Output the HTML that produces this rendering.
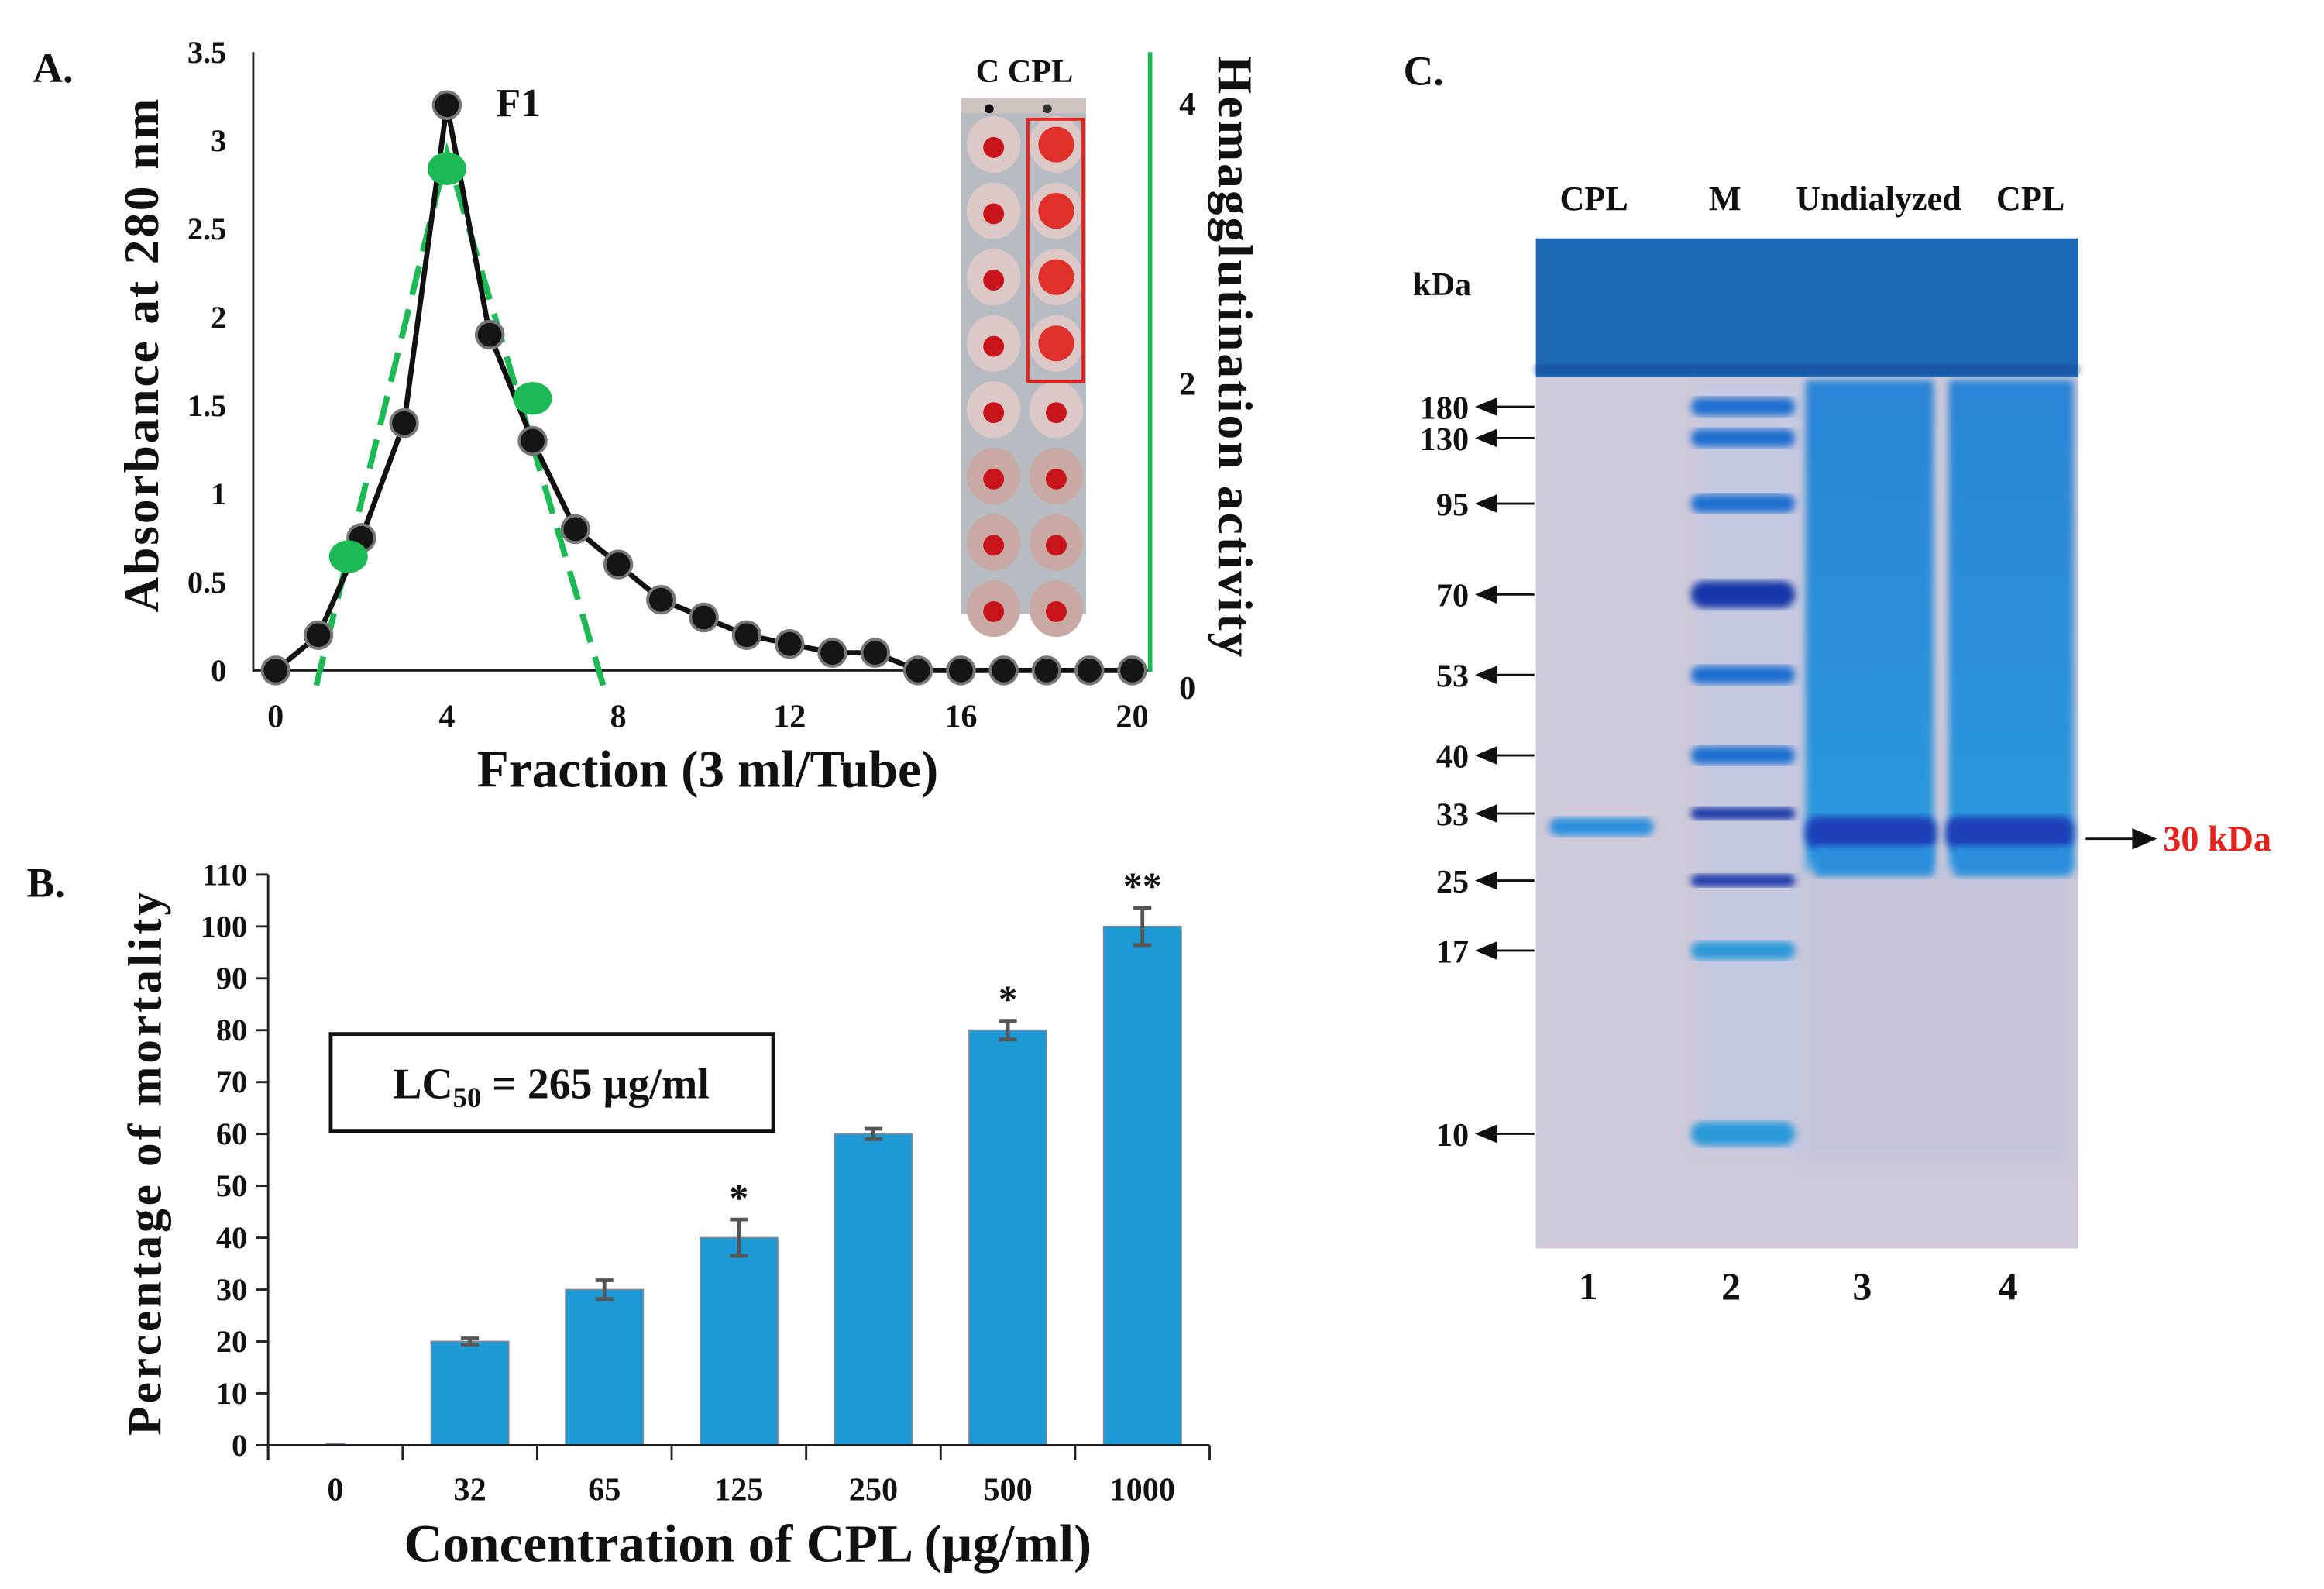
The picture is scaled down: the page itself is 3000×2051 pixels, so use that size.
<!DOCTYPE html>
<html><head><meta charset="utf-8"><style>
html,body{margin:0;padding:0;background:#fff}
svg{display:block}
text{font-family:"Liberation Serif",serif;font-weight:bold;fill:#111}
</style></head><body>
<svg id="fig" width="3000" height="2051" viewBox="0 0 1560 1066.5" preserveAspectRatio="none" xmlns="http://www.w3.org/2000/svg">
<defs>
<filter id="blur2"><feGaussianBlur stdDeviation="2.5"/></filter>
<filter id="blur4"><feGaussianBlur stdDeviation="4"/></filter>
<linearGradient id="smear" x1="0" y1="0" x2="0" y2="1">
<stop offset="0" stop-color="#2a84d6"/><stop offset="0.85" stop-color="#2a96dc"/><stop offset="1" stop-color="#2a9ae0"/></linearGradient>
</defs>
<g id="panelA"></g>
<g id="panelB"></g>
<g id="panelC"></g>
</svg>
<script>
// ---------- Panel A data ----------
const fractions = [0,1,2,3,4,5,6,7,8,9,10,11,12,13,14,15,16,17,18,19,20];
const absorbance = [0,0.2,0.75,1.4,3.2,1.9,1.3,0.8,0.6,0.4,0.3,0.2,0.15,0.1,0.1,0,0,0,0,0,0];
const haFractions = [1.7,4.0,6.0];
const haActivity = [0.77,3.54,1.9];
const haTrendX = [0.95,4.0,7.65];
const haTrendY = [-0.15,3.65,-0.15];
const absTicks = [0,0.5,1,1.5,2,2.5,3,3.5];
const fracTicks = [0,4,8,12,16,20];
const haTicks = [0,2,4];
// ---------- Panel B data ----------
const concCategories = ["0","32","65","125","250","500","1000"];
const mortality = [0,20,30,40,60,80,100];
const mortalityErr = [0.3,0.6,1.8,3.5,1,1.8,3.6];
const significance = ["","","","*","","*","**"];
const mortTicks = [0,10,20,30,40,50,60,70,80,90,100,110];
// ---------- Panel C data ----------
const markerKDa = [180,130,95,70,53,40,33,25,17,10];
const markerY = [273,294,338,399,453,507,546,591,638,761];
const laneLabels = ["CPL","M","Undialyzed","CPL"];
const laneNumbers = ["1","2","3","4"];

const NS = "http://www.w3.org/2000/svg";
function mk(parent, tag, attrs, txt){
  const e = document.createElementNS(NS, tag);
  for (const k in attrs) e.setAttribute(k, attrs[k]);
  if (txt !== undefined) e.textContent = txt;
  parent.appendChild(e);
  return e;
}

// ================= Panel A =================
const A = document.getElementById('panelA');
const ax = v => 185 + (v - 0) * (760 - 185) / 20;
const ay = v => 450 - v * (450 - 35) / 3.5;
const ary = v => 446 - v * (446 - 70) / 4;

let t;
t = mk(A,'text',{x:22,y:55,'font-size':28}, 'A.');



const inset = mk(A,'g',{});


mk(inset,'rect',{x:645,y:66,width:84,height:346,fill:'#b7bcc2'});
mk(inset,'rect',{x:645,y:66,width:84,height:10,fill:'#cfc3c0'});
for (let r=0;r<8;r++){
  const cy = 97 + r*44.5;
  for (let c=0;c<2;c++){
    const cx = c===0 ? 667 : 709;
    mk(inset,'ellipse',{cx:cx,cy:cy,rx:18,ry:19,fill: r>4 ? '#c9a9a4' : '#dcc9c7'});
    const big = (c===1 && r<4);
    mk(inset,'circle',{cx:cx,cy:cy+(big?0:2),r: big?12:7,fill: big?'#e0302a':'#c8141a'});
  }
}
mk(inset,'circle',{cx:664,cy:73,r:3,fill:'#111'});
mk(inset,'circle',{cx:703,cy:73,r:3,fill:'#333'});
t = mk(A,'rect',{x:690,y:80,width:37,height:176,fill:'none',stroke:'#e8201a','stroke-width':2});


t = mk(A,'text',{x:655,y:55,'font-size':22}, 'C CPL');



t = mk(A,'line',{x1:170,y1:35,x2:170,y2:451,stroke:'#222','stroke-width':1.5});


t = mk(A,'line',{x1:170,y1:450,x2:772,y2:450,stroke:'#222','stroke-width':1.5});


t = mk(A,'line',{x1:772,y1:35,x2:772,y2:451,stroke:'#1db954','stroke-width':3});



absTicks.forEach(v=>{
  const e = mk(A,'text',{x:152,y:ay(v)+7,'font-size':21,'text-anchor':'end'}, String(v));
  
  
});
fracTicks.forEach(v=>{
  const e = mk(A,'text',{x:ax(v),y:488,'font-size':22,'text-anchor':'middle'}, String(v));
  
  
});
haTicks.forEach(v=>{
  const e = mk(A,'text',{x:797,y:ary(v)+(v===0?23:7),'font-size':22,'text-anchor':'middle'}, String(v));
  
  
});

t = mk(A,'text',{x:0,y:0,'font-size':33,'text-anchor':'middle',transform:'translate(106,238) rotate(-90)','letter-spacing':'1.5'}, 'Absorbance at 280 nm');


t = mk(A,'text',{x:0,y:0,'font-size':33,'text-anchor':'middle',transform:'translate(818,240) rotate(90)','letter-spacing':'1.5'}, 'Hemagglutination activity');


t = mk(A,'text',{x:475,y:528,'font-size':35,'text-anchor':'middle'}, 'Fraction (3 ml/Tube)');



let d = haTrendX.map((x,i)=>(i?'L':'M')+ax(x)+','+ary(haTrendY[i])).join(' ');
t = mk(A,'path',{d:d,fill:'none',stroke:'#1db954','stroke-width':4,'stroke-dasharray':'20,10'});



d = fractions.map((x,i)=>(i?'L':'M')+ax(x)+','+ay(absorbance[i])).join(' ');
t = mk(A,'path',{d:d,fill:'none',stroke:'#111','stroke-width':3.5});


fractions.forEach((x,i)=>{
  const c = mk(A,'circle',{cx:ax(x),cy:ay(absorbance[i]),r:9,fill:'#151515',stroke:'#777','stroke-width':2});
  
  
});
haFractions.forEach((x,i)=>{
  const c = mk(A,'ellipse',{cx:ax(x),cy:ary(haActivity[i]),rx:13,ry:11,fill:'#1db954'});
  
  
});
t = mk(A,'text',{x:333,y:78,'font-size':27}, 'F1');



// ================= Panel B =================
const B = document.getElementById('panelB');
const bx0 = 180, bx1 = 812;
const band = (bx1 - bx0) / concCategories.length;
const bcx = i => bx0 + band*(i+0.5);
const by = v => 970 - v * (970 - 587) / 110;

t = mk(B,'text',{x:18,y:602,'font-size':28}, 'B.');



mortality.forEach((v,i)=>{
  const bw = v>0 ? 52 : 12;
  const r = mk(B,'rect',{x:bcx(i)-bw/2,y:by(v)-(v>0?0:1),width:bw,height:Math.max(by(0)-by(v),1),fill:'#1b9ad6',stroke:'#7a8a95','stroke-width':1});
  
  
  const e = mortalityErr[i];
  if (v>0){
    const g = mk(B,'path',{d:`M${bcx(i)},${by(v+e)} L${bcx(i)},${by(v-e)} M${bcx(i)-6},${by(v+e)} L${bcx(i)+6},${by(v+e)} M${bcx(i)-6},${by(v-e)} L${bcx(i)+6},${by(v-e)}`,stroke:'#555','stroke-width':2.5,fill:'none'});
    
    
  }
  if (significance[i]){
    const s = mk(B,'text',{x:bcx(i),y:by(v+e)-6,'font-size':26,'text-anchor':'middle'}, significance[i]);
    
    
  }
  const lab = mk(B,'text',{x:bcx(i),y:1007,'font-size':22,'text-anchor':'middle'}, concCategories[i]);
  
  
});
t = mk(B,'line',{x1:bx0,y1:587,x2:bx0,y2:980,stroke:'#222','stroke-width':1.5});


t = mk(B,'line',{x1:bx0-8,y1:970,x2:bx1,y2:970,stroke:'#222','stroke-width':1.5});


for (let i=0;i<=concCategories.length;i++){
  const l = mk(B,'line',{x1:bx0+band*i,y1:970,x2:bx0+band*i,y2:980,stroke:'#222','stroke-width':1.5});
  
  
}
mortTicks.forEach(v=>{
  const l = mk(B,'line',{x1:bx0-8,y1:by(v),x2:bx0,y2:by(v),stroke:'#222','stroke-width':1.5});
  
  
  const e = mk(B,'text',{x:bx0-14,y:by(v)+7,'font-size':21,'text-anchor':'end'}, String(v));
  
  
});
t = mk(B,'text',{x:0,y:0,'font-size':32,'text-anchor':'middle',transform:'translate(108,780) rotate(-90)','letter-spacing':'2'}, 'Percentage of mortality');


t = mk(B,'text',{x:502,y:1048,'font-size':36,'text-anchor':'middle'}, 'Concentration of CPL (µg/ml)');


const lcg = mk(B,'g',{});


mk(lcg,'rect',{x:222,y:694,width:297,height:65,fill:'#fff',stroke:'#111','stroke-width':2.5});
const lct = mk(lcg,'text',{x:370,y:737,'font-size':29,'text-anchor':'middle'});
mk(lct,'tspan',{},'LC');
mk(lct,'tspan',{dy:6,'font-size':19},'50');
mk(lct,'tspan',{dy:-6},' = 265 µg/ml');

// ================= Panel C =================
const C = document.getElementById('panelC');
t = mk(C,'text',{x:942,y:57,'font-size':28}, 'C.');


const gel = mk(C,'g',{});


mk(gel,'rect',{x:1031,y:160,width:364,height:678,fill:'#d3cad6'});
mk(gel,'rect',{x:1031,y:250,width:364,height:588,fill:'#cbc8dc',opacity:0.5});
mk(gel,'rect',{x:1140,y:255,width:70,height:520,fill:'#c4c8e0',filter:'url(#blur4)'});
mk(gel,'rect',{x:1212,y:255,width:86,height:330,fill:'url(#smear)',filter:'url(#blur2)'});
mk(gel,'rect',{x:1308,y:255,width:84,height:330,fill:'url(#smear)',filter:'url(#blur2)'});
mk(gel,'rect',{x:1210,y:580,width:180,height:200,fill:'#bcc2da',filter:'url(#blur4)',opacity:0.6});
mk(gel,'rect',{x:1031,y:160,width:364,height:93,fill:'#1c67b3'});
mk(gel,'rect',{x:1031,y:245,width:364,height:6,fill:'#1852a0',filter:'url(#blur2)'});
mk(gel,'rect',{x:1040,y:549,width:70,height:12,rx:6,fill:'#2c8fdc',filter:'url(#blur2)'});
mk(gel,'rect',{x:1212,y:548,width:88,height:22,rx:8,fill:'#1a3fb8',filter:'url(#blur2)'});
mk(gel,'rect',{x:1306,y:548,width:86,height:22,rx:8,fill:'#1a3fb8',filter:'url(#blur2)'});
mk(gel,'rect',{x:1218,y:568,width:80,height:20,fill:'#2a8edc',filter:'url(#blur2)'});
mk(gel,'rect',{x:1312,y:568,width:78,height:20,fill:'#2a8edc',filter:'url(#blur2)'});
markerKDa.forEach((k,i)=>{
  const strong = (k===70||k===25||k===33);
  const h = k===70?18:(k===10?16:(k===25||k===33?8:12));
  const b = mk(C,'rect',{x:1135,y:markerY[i]-h/2,width:70,height:h,rx:h/2,fill: strong?'#1434a8':(k===10||k===17?'#2a9ad8':'#1f6ed0'),filter:'url(#blur2)'});
  
  
  const lab = mk(C,'text',{x:986,y:markerY[i]+8,'font-size':22,'text-anchor':'end'}, String(k));
  
  
  const ar = mk(C,'path',{d:`M1030,${markerY[i]} L994,${markerY[i]} M1004,${markerY[i]-5} L992,${markerY[i]} L1004,${markerY[i]+5} Z`,stroke:'#111','stroke-width':1.5,fill:'#111'});
  
  
});
t = mk(C,'text',{x:968,y:198,'font-size':22,'text-anchor':'middle'}, 'kDa');


const laneLabelX = [1070,1158,1261,1363];
laneLabels.forEach((s,i)=>{
  const e = mk(C,'text',{x:laneLabelX[i],y:141,'font-size':23,'text-anchor':'middle'}, s);
  
  
});
const laneNumX = [1066,1162,1250,1348];
laneNumbers.forEach((s,i)=>{
  const e = mk(C,'text',{x:laneNumX[i],y:872,'font-size':26,'text-anchor':'middle'}, s);
  
  
});
t = mk(C,'path',{d:'M1400,563 L1440,563 M1432,557 L1446,563 L1432,569 Z',stroke:'#111','stroke-width':1.5,fill:'#111'});


t = mk(C,'text',{x:1452,y:571,'font-size':24,fill:'#e8201a',style:'fill:#e8201a'}, '30 kDa');


</script>
</body></html>
